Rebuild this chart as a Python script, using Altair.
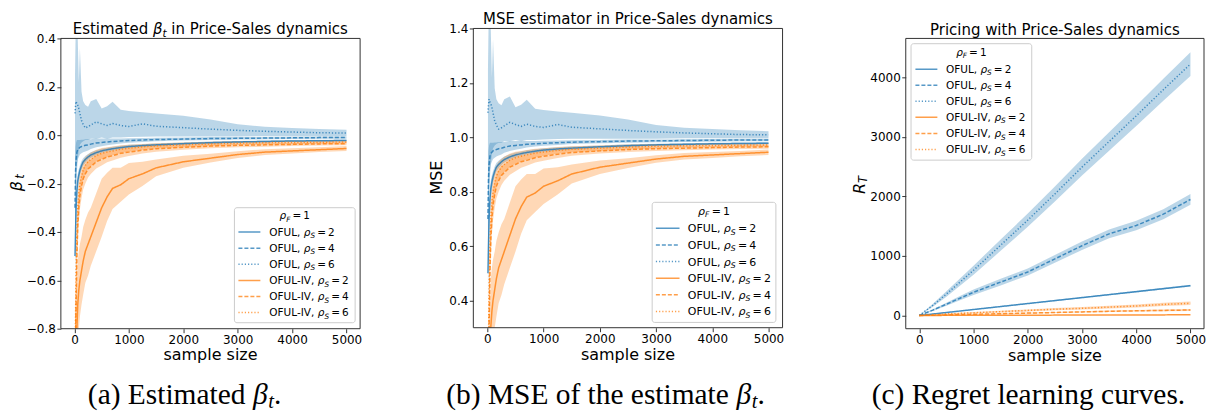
import altair as alt
import pandas as pd

# ---------------------------------------------------------------- data
X = [10, 20, 30, 45, 60, 80, 100, 130, 160, 200, 250, 300, 400, 500, 600, 700,
     850, 1000, 1250, 1500, 2000, 2500, 3000, 3500, 4000, 4500, 5000]

# (a) estimated beta_t : mean curves and band half-widths / edges
A_O2 = [-0.50, -0.40, -0.30, -0.23, -0.19, -0.165, -0.145, -0.125, -0.11, -0.10, -0.09, -0.082, -0.072, -0.065,
        -0.060, -0.056, -0.051, -0.047, -0.043, -0.040, -0.035, -0.031, -0.028, -0.026, -0.024, -0.023, -0.022]
A_O4 = [-0.30, -0.15, -0.10, -0.07, -0.06, -0.055, -0.05, -0.047, -0.045, -0.042, -0.040, -0.037, -0.032, -0.030,
        -0.028, -0.026, -0.024, -0.022, -0.020, -0.018, -0.016, -0.014, -0.013, -0.012, -0.011, -0.010, -0.010]
A_O6 = [0.09, 0.12, 0.14, 0.13, 0.124, 0.11, 0.09, 0.06, 0.045, 0.03, 0.035, 0.042, 0.055, 0.047,
        0.040, 0.048, 0.040, 0.036, 0.047, 0.037, 0.031, 0.025, 0.020, 0.016, 0.013, 0.010, 0.009]
A_O6_HI = [0.25, 0.40, 0.40, 0.40, 0.40, 0.22, 0.36, 0.18, 0.14, 0.125, 0.118, 0.14, 0.15, 0.11,
           0.12, 0.138, 0.105, 0.10, 0.095, 0.09, 0.08, 0.065, 0.045, 0.035, 0.030, 0.026, 0.022]
A_O6_LO = [-0.50, -0.35, -0.25, -0.15, -0.10, -0.06, -0.04, -0.03, -0.025, -0.02, -0.02, -0.015, -0.015, -0.01,
           -0.015, -0.01, -0.01, -0.008, -0.006, -0.005, -0.005, -0.005, -0.005, -0.004, -0.004, -0.004, -0.004]
A_I2 = [-1.00, -0.95, -0.90, -0.80, -0.70, -0.64, -0.60, -0.56, -0.52, -0.48, -0.45, -0.42, -0.36, -0.30,
        -0.255, -0.22, -0.205, -0.18, -0.16, -0.135, -0.11, -0.095, -0.08, -0.07, -0.065, -0.06, -0.055]
A_I4 = [-0.95, -0.85, -0.70, -0.50, -0.38, -0.30, -0.25, -0.21, -0.18, -0.16, -0.14, -0.13, -0.11, -0.10,
        -0.09, -0.085, -0.075, -0.07, -0.062, -0.056, -0.05, -0.045, -0.042, -0.04, -0.038, -0.036, -0.035]
A_I6 = [-0.90, -0.75, -0.55, -0.40, -0.30, -0.24, -0.20, -0.17, -0.145, -0.125, -0.11, -0.10, -0.085, -0.075,
        -0.07, -0.065, -0.058, -0.054, -0.048, -0.044, -0.04, -0.036, -0.033, -0.031, -0.03, -0.029, -0.028]

# (b) MSE of the estimate
B_O2 = [0.50, 0.60, 0.70, 0.77, 0.81, 0.835, 0.855, 0.875, 0.89, 0.90, 0.91, 0.918, 0.928, 0.935,
        0.940, 0.944, 0.949, 0.953, 0.957, 0.960, 0.965, 0.969, 0.972, 0.974, 0.976, 0.977, 0.978]
B_O4 = [0.70, 0.85, 0.90, 0.93, 0.94, 0.945, 0.95, 0.953, 0.955, 0.958, 0.960, 0.963, 0.968, 0.970,
        0.972, 0.974, 0.976, 0.978, 0.980, 0.982, 0.984, 0.986, 0.987, 0.988, 0.989, 0.990, 0.990]
B_O6 = [1.09, 1.12, 1.14, 1.13, 1.124, 1.11, 1.09, 1.06, 1.045, 1.03, 1.035, 1.042, 1.055, 1.047,
        1.040, 1.048, 1.040, 1.036, 1.047, 1.037, 1.031, 1.025, 1.020, 1.016, 1.013, 1.010, 1.009]
B_O6_HI = [1.25, 1.40, 1.40, 1.40, 1.40, 1.22, 1.36, 1.18, 1.14, 1.125, 1.118, 1.14, 1.15, 1.11,
           1.12, 1.138, 1.105, 1.10, 1.095, 1.09, 1.08, 1.065, 1.045, 1.035, 1.030, 1.026, 1.022]
B_O6_LO = [0.50, 0.65, 0.75, 0.85, 0.90, 0.94, 0.96, 0.97, 0.975, 0.98, 0.98, 0.985, 0.985, 0.99,
           0.985, 0.99, 0.99, 0.992, 0.994, 0.995, 0.995, 0.995, 0.995, 0.996, 0.996, 0.996, 0.996]
B_I2 = [0.00, 0.05, 0.10, 0.20, 0.30, 0.36, 0.40, 0.44, 0.48, 0.52, 0.55, 0.58, 0.64, 0.70,
        0.745, 0.78, 0.795, 0.82, 0.84, 0.865, 0.89, 0.905, 0.92, 0.93, 0.935, 0.94, 0.945]
B_I4 = [0.05, 0.15, 0.30, 0.50, 0.62, 0.70, 0.75, 0.79, 0.82, 0.84, 0.86, 0.87, 0.89, 0.90,
        0.91, 0.915, 0.925, 0.93, 0.938, 0.944, 0.95, 0.955, 0.958, 0.96, 0.962, 0.964, 0.965]
B_I6 = [0.10, 0.25, 0.45, 0.60, 0.70, 0.76, 0.80, 0.83, 0.855, 0.875, 0.89, 0.90, 0.915, 0.925,
        0.93, 0.935, 0.942, 0.946, 0.952, 0.956, 0.96, 0.964, 0.967, 0.969, 0.97, 0.971, 0.972]

# band half-widths shared by (a) and (b)
CI_O2 = [0.10, 0.08, 0.06, 0.04, 0.03, 0.025, 0.02, 0.018, 0.015, 0.014, 0.012, 0.011, 0.010, 0.009,
         0.008, 0.008, 0.007, 0.007, 0.006, 0.006, 0.005, 0.005, 0.004, 0.004, 0.004, 0.004, 0.004]
CI_O4 = [0.15, 0.10, 0.07, 0.05, 0.04, 0.035, 0.03, 0.028, 0.026, 0.025, 0.023, 0.02, 0.018, 0.016,
         0.014, 0.012, 0.010, 0.009, 0.008, 0.007, 0.006, 0.006, 0.005, 0.005, 0.005, 0.005, 0.005]
CI_I2 = [0.25, 0.22, 0.20, 0.20, 0.18, 0.16, 0.15, 0.14, 0.14, 0.13, 0.13, 0.12, 0.12, 0.12,
         0.10, 0.085, 0.07, 0.065, 0.05, 0.035, 0.025, 0.018, 0.014, 0.012, 0.011, 0.010, 0.010]
CI_I4 = [0.12, 0.10, 0.09, 0.08, 0.07, 0.06, 0.055, 0.05, 0.045, 0.04, 0.035, 0.03, 0.028, 0.025,
         0.022, 0.02, 0.018, 0.016, 0.014, 0.012, 0.01, 0.009, 0.008, 0.008, 0.007, 0.007, 0.007]
CI_I6 = [0.12, 0.10, 0.09, 0.08, 0.07, 0.06, 0.05, 0.045, 0.04, 0.035, 0.03, 0.028, 0.025, 0.022,
         0.02, 0.018, 0.016, 0.014, 0.012, 0.011, 0.01, 0.009, 0.008, 0.007, 0.007, 0.006, 0.006]

# (c) regret
CX = [0, 250, 500, 750, 1000, 1500, 2000, 2500, 3000, 3500, 4000, 4500, 5000]
C_O2 = [0, 25, 50, 75, 100, 150, 200, 250, 300, 350, 400, 450, 500]
C_O4 = [0, 90, 190, 290, 390, 560, 730, 950, 1170, 1370, 1510, 1700, 1947]
C_O6 = [0, 170, 360, 560, 760, 1180, 1600, 2040, 2490, 2920, 3350, 3790, 4220]
C_I2 = [0, 1, 2, 3, 3, 4, 5, 6, 7, 8, 9, 10, 11]
C_I4 = [0, 5, 10, 15, 20, 30, 40, 50, 60, 70, 78, 85, 92]
C_I6 = [0, 12, 25, 35, 45, 65, 85, 105, 120, 140, 160, 185, 205]
CC_O2 = [0, 3, 5, 6, 7, 8, 9, 10, 11, 12, 13, 14, 15]
CC_O4 = [0, 15, 25, 35, 45, 55, 60, 65, 70, 75, 80, 85, 90]
CC_O6 = [0, 25, 45, 60, 75, 95, 110, 125, 140, 155, 170, 185, 200]
CC_I2 = [0, 1, 1, 1, 1, 2, 2, 2, 2, 2, 3, 3, 3]
CC_I4 = [0, 3, 4, 5, 6, 8, 9, 10, 11, 12, 13, 14, 15]
CC_I6 = [0, 5, 8, 10, 12, 15, 17, 19, 21, 23, 25, 27, 28]

SERIES = ["OFUL rho2", "OFUL rho4", "OFUL rho6", "OFUL-IV rho2", "OFUL-IV rho4", "OFUL-IV rho6"]
METHODS = ["OFUL", "OFUL", "OFUL", "OFUL-IV", "OFUL-IV", "OFUL-IV"]
RHO_S = ["2", "4", "6", "2", "4", "6"]
X_TICKS = [0, 1000, 2000, 3000, 4000, 5000]
A_TICKS = [-0.8, -0.6, -0.4, -0.2, 0.0, 0.2, 0.4]
B_TICKS = [0.4, 0.6, 0.8, 1.0, 1.2, 1.4]
C_TICKS = [0, 1000, 2000, 3000, 4000]

# ---------------------------------------------------------------- style
BLUE, ORANGE = "#1f77b4", "#ff7f0e"
COLORS = [BLUE, BLUE, BLUE, ORANGE, ORANGE, ORANGE]
DASHES = [[1, 0], [4, 2], [1.2, 2], [1, 0], [4, 2], [1.2, 2]]
SANS = "DejaVu Sans"
SERIF = "Liberation Serif"
ONE = pd.DataFrame({"k": [0]})
CAP_Y = 376
CAP_FS = 29.5
LW = 1.5

DV = {' ': .318, ',': .318, '-': .361, '.': .318, '=': .838, '0': .636, '1': .636, '2': .636,
      '4': .636, '6': .636, 'E': .632, 'F': .575, 'I': .295, 'L': .557, 'M': .863, 'O': .787,
      'P': .603, 'R': .695, 'S': .635, 'T': .611, 'U': .732, 'V': .684, 'a': .613, 'c': .550,
      'd': .635, 'e': .615, 'g': .635, 'h': .634, 'i': .278, 'l': .278, 'm': .974, 'n': .634,
      'o': .612, 'p': .635, 'r': .411, 's': .521, 't': .392, 'w': .818, 'y': .592, 'z': .525,
      'β': .63, 'ρ': .635}
LS = {' ': .25, '(': .333, ')': .333, '.': .25, 'a': .444, 'b': .5, 'c': .444, 'd': .5,
      'e': .444, 'f': .333, 'g': .5, 'h': .5, 'i': .278, 'l': .278, 'm': .778, 'n': .5,
      'o': .5, 'r': .333, 's': .389, 't': .278, 'u': .5, 'v': .5, 'E': .611, 'M': .889,
      'R': .667, 'S': .556, 'β': .52}


def rich(segs, x, y, align, family, table):
    """segs: (text, size, italic, dy) or (None, advance_px)."""
    widths = []
    for s in segs:
        if s[0] is None:
            widths.append(s[1])
        else:
            widths.append(sum(table.get(ch, .6) for ch in s[0]) * s[1])
    total = sum(widths)
    cx = x - total / 2 if align == "center" else x
    out = []
    for s, w in zip(segs, widths):
        if s[0] is not None:
            t, size, it, dy = s
            lead = len(t) - len(t.lstrip(' '))
            out.append(alt.Chart(ONE).mark_text(
                text=t.strip(), font=family, fontSize=size,
                fontStyle="italic" if it else "normal", align="left",
                baseline="alphabetic", color="black").encode(
                x=alt.value(cx + lead * table[' '] * size), y=alt.value(y + dy)))
        cx += w
    return out


def legend(fx0, fy0, fx1, fy1, ty, rows, sx0, sx1, lx, fs):
    sub = 0.7 * fs
    gap = 0.2 * fs
    L = [alt.Chart(ONE).mark_rect(fill="white", fillOpacity=0.8, stroke="#cccccc",
                                  strokeWidth=1, cornerRadius=2.5).encode(
        x=alt.value(fx0), x2=alt.value(fx1), y=alt.value(fy0), y2=alt.value(fy1))]
    base = 0.36 * fs
    L += rich([("ρ", fs, True, 0), ("F", sub, True, 0.22 * fs), (None, gap), ("=", fs, False, 0),
               (None, gap), ("1", fs, False, 0)], (fx0 + fx1) / 2, ty + base, "center", SANS, DV)
    for i, ry in enumerate(rows):
        L.append(alt.Chart(ONE).mark_rule(color=COLORS[i], strokeWidth=LW, opacity=0.75,
                                          strokeDash=DASHES[i]).encode(
            x=alt.value(sx0), x2=alt.value(sx1), y=alt.value(ry)))
        L += rich([(METHODS[i] + ", ", fs, False, 0), ("ρ", fs, True, 0), ("S", sub, True, 0.22 * fs),
                   (None, gap), ("=", fs, False, 0), (None, gap), (RHO_S[i], fs, False, 0)],
                  lx, ry + base, "left", SANS, DV)
    return L


def data_layers(xv, series, xdom, ydom, yvals, yfmt):
    rows = []
    for name, mean, lo, hi in series:
        for xx, m, l, h in zip(xv, mean, lo, hi):
            rows.append({"x": xx, "y": m, "lo": l, "hi": h, "s": name})
    df = pd.DataFrame(rows)
    xs = alt.Scale(domain=xdom, nice=False, zero=False)
    ys = alt.Scale(domain=ydom, nice=False, zero=False)
    xa = alt.Axis(values=X_TICKS, format="d", title=None)
    ya = alt.Axis(values=yvals, format=yfmt, title=None)
    cs = alt.Scale(domain=SERIES, range=COLORS)
    ds = alt.Scale(domain=SERIES, range=DASHES)
    band = alt.Chart(df).mark_area(opacity=0.3, clip=True).encode(
        x=alt.X("x:Q", scale=xs, axis=xa), y=alt.Y("lo:Q", scale=ys, axis=ya), y2="hi:Q",
        color=alt.Color("s:N", scale=cs, legend=None))
    line = alt.Chart(df).mark_line(strokeWidth=LW, opacity=0.8, clip=True).encode(
        x=alt.X("x:Q", scale=xs, axis=xa), y=alt.Y("y:Q", scale=ys, axis=ya),
        color=alt.Color("s:N", scale=cs, legend=None),
        strokeDash=alt.StrokeDash("s:N", scale=ds, legend=None))
    return [band, line]


def frame(x0, y0, x1, y1):
    return alt.Chart(ONE).mark_rect(fill=None, stroke="#333333", strokeWidth=1).encode(
        x=alt.value(x0), x2=alt.value(x1), y=alt.value(y0), y2=alt.value(y1))


def text(t, x, y, size=16, angle=0, italic=False, family=SANS, baseline="middle"):
    return alt.Chart(ONE).mark_text(text=t, font=family, fontSize=size, angle=angle,
                                    fontStyle="italic" if italic else "normal",
                                    align="center", baseline=baseline, color="black").encode(
        x=alt.value(x), y=alt.value(y))


def sym(mean, ci):
    return [m - c for m, c in zip(mean, ci)], [m + c for m, c in zip(mean, ci)]


# ---------------------------------------------------------------- panel (a)
WA, HA, TA = 300, 301, 10
sa = [(SERIES[0], A_O2, *sym(A_O2, CI_O2)), (SERIES[1], A_O4, *sym(A_O4, CI_O4)),
      (SERIES[2], A_O6, A_O6_LO, A_O6_HI), (SERIES[3], A_I2, *sym(A_I2, CI_I2)),
      (SERIES[4], A_I4, *sym(A_I4, CI_I4)), (SERIES[5], A_I6, *sym(A_I6, CI_I6))]
la = data_layers(X, sa, [-250, 5250], [-0.8, 0.4 + 1.2 * TA / (HA - TA)], A_TICKS, ".1f")
la += [frame(0, TA, WA, HA)]
la += legend(174, 179.7, 295, 295, 187.7, [204, 220.3, 236.3, 252.7, 268.7, 284.7], 178, 200, 209, 10.5)
la += rich([("Estimated ", 15, False, 0), ("β", 15, True, 0), ("t", 10.5, True, 3),
            (" in Price-Sales dynamics", 15, False, 0)], WA / 2, 6, "center", SANS, DV)
la += [text("β", -43.5, 158, 16, 270, True), text("t", -40, 148.5, 11.5, 270, True),
       text("sample size", WA / 2, 327.5)]
la += rich([("(a) Estimated ", CAP_FS, False, 0), ("β", CAP_FS, True, 0), ("t", 20.5, True, 4),
            (".", CAP_FS, False, 0)], 124, CAP_Y, "center", SERIF, LS)
la += [alt.Chart(ONE).mark_rect(fill="white").encode(
    x=alt.value(-53), x2=alt.value(-52), y=alt.value(-20), y2=alt.value(-19))]
pa = alt.layer(*la).properties(width=WA, height=HA)

# ---------------------------------------------------------------- panel (b)
WBF, WB, HB = 310, 320, 300
sb = [(SERIES[0], B_O2, *sym(B_O2, CI_O2)), (SERIES[1], B_O4, *sym(B_O4, CI_O4)),
      (SERIES[2], B_O6, B_O6_LO, B_O6_HI), (SERIES[3], B_I2, *sym(B_I2, CI_I2)),
      (SERIES[4], B_I4, *sym(B_I4, CI_I4)), (SERIES[5], B_I6, *sym(B_I6, CI_I6))]
lb = data_layers(X, sb, [-250, -250 + 5500 * WB / WBF], [0.3, 1.4], B_TICKS, ".1f")
lb += [frame(0, 0, WBF, HB)]
lb += legend(179.3, 174.3, 303.3, 294.7, 183, [200.3, 217, 233.7, 250.3, 267, 283.7], 183, 206.7, 215, 11)
lb += [text("MSE estimator in Price-Sales dynamics", WBF / 2, -4, 15, baseline="alphabetic"),
       text("MSE", -36.8, 149.5, 16, 270), text("sample size", WBF / 2, 327)]
lb += rich([("(b) MSE of the estimate ", CAP_FS, False, 0), ("β", CAP_FS, True, 0), ("t", 20.5, True, 4),
            (".", CAP_FS, False, 0)], 132.5, CAP_Y, "center", SERIF, LS)
pb = alt.layer(*lb).properties(width=WB, height=HB)

# ---------------------------------------------------------------- panel (c)
WC, HC, TC = 299, 301, 10
sc = [(SERIES[0], C_O2, *sym(C_O2, CC_O2)), (SERIES[1], C_O4, *sym(C_O4, CC_O4)),
      (SERIES[2], C_O6, *sym(C_O6, CC_O6)), (SERIES[3], C_I2, *sym(C_I2, CC_I2)),
      (SERIES[4], C_I4, *sym(C_I4, CC_I4)), (SERIES[5], C_I6, *sym(C_I6, CC_I6))]
lc = data_layers(CX, sc, [-250, 5250], [-222, 4650 + 4872 * TC / (HC - TC)], C_TICKS, "d")
lc += [frame(0, TC, WC, HC)]
lc += legend(5.3, 15.3, 126.3, 132, 23.7, [41, 57, 73, 89, 105.3, 121.3], 9.7, 31.7, 40.3, 10.5)
lc += [text("Pricing with Price-Sales dynamics", WC / 2, 6.3, 15, baseline="alphabetic"),
       text("R", -46.3, 160.3, 16, 270, True), text("T", -42, 151.3, 11.5, 270, True),
       text("sample size", WC / 2, 328)]
lc += [text("(c) Regret learning curves.", 123, CAP_Y, CAP_FS, family=SERIF, baseline="alphabetic")]
pc = alt.layer(*lc).properties(width=WC, height=HC)

chart = alt.hconcat(pa, pb, pc, spacing=113.5, bounds="flush", padding=0).configure_view(
    stroke=None).configure_axis(
    domain=False, grid=False, tickSize=4, tickColor="black", tickWidth=0.8,
    labelFont=SANS, labelFontSize=12, labelColor="black", labelPadding=1.5,
    labelFlush=False, labelOverlap=False)

chart.save("out.html", embed_options={"renderer": "svg", "actions": False})
